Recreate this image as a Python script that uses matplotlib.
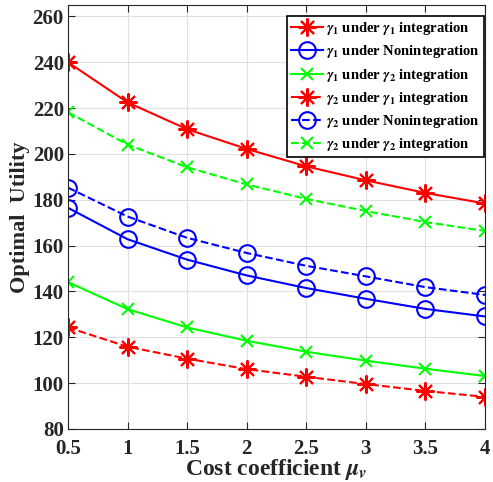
import matplotlib
matplotlib.use('Agg')
import matplotlib.pyplot as plt

plt.rcParams['font.family'] = ['Liberation Serif', 'DejaVu Serif']
plt.rcParams['font.weight'] = 'bold'
plt.rcParams['mathtext.fontset'] = 'stix'

mu = [0.5, 1, 1.5, 2, 2.5, 3, 3.5, 4]

g1_int1 = [240, 222.5, 210.8, 202.2, 194.6, 188.5, 183.0, 178.4]
g1_non = [176.5, 162.8, 153.9, 147.0, 141.5, 136.8, 132.4, 129.1]
g1_int2 = [144.1, 132.3, 124.3, 118.5, 113.7, 109.8, 106.3, 103.1]
g2_int1 = [124.3, 115.9, 110.7, 106.1, 102.8, 99.6, 96.6, 94.0]
g2_non = [185.3, 172.7, 163.4, 156.8, 151.2, 146.6, 141.9, 138.5]
g2_int2 = [218.2, 204.1, 194.2, 186.7, 180.4, 175.1, 170.3, 166.4]

labels = [r'$\gamma_1$ under $\gamma_1$ integration',
          r'$\gamma_1$ under Nonintegration',
          r'$\gamma_1$ under $\gamma_2$ integration',
          r'$\gamma_2$ under $\gamma_1$ integration',
          r'$\gamma_2$ under Nonintegration',
          r'$\gamma_2$ under $\gamma_2$ integration']

# matlab style asterisk: 8 spokes
star = (8, 2, 0)

fig = plt.figure(figsize=(4.93, 4.82), dpi=100)
ax = fig.add_axes([68/493, 1-429/482, (485-68)/493, (429-5)/482])

ax.plot(mu, g1_int1, '-', color='#ff0000', marker=star, ms=13, mew=1.5, lw=1.5, label=labels[0])
ax.plot(mu, g1_non, '-', color='#0000ff', marker='o', ms=12, mfc='none', mew=1.5, lw=1.5, label=labels[1])
ax.plot(mu, g1_int2, '-', color='#00ff00', marker='x', ms=9, mew=1.5, lw=1.5, label=labels[2])
ax.plot(mu, g2_int1, '--', color='#ff0000', marker=star, ms=13, mew=1.5, lw=1.5, label=labels[3])
ax.plot(mu, g2_non, '--', color='#0000ff', marker='o', ms=12, mfc='none', mew=1.5, lw=1.5, label=labels[4])
ax.plot(mu, g2_int2, '--', color='#00ff00', marker='x', ms=9, mew=1.5, lw=1.5, label=labels[5])

ax.set_xlim(0.5, 4)
ax.set_ylim(80, 265)
ax.set_xticks(mu)
ax.set_xticklabels(['0.5', '1', '1.5', '2', '2.5', '3', '3.5', '4'])
ax.set_yticks(range(80, 261, 20))
ax.tick_params(direction='in', top=True, right=True, labelsize=15, length=5, colors='#262626')
ax.tick_params(axis='x', pad=7)
ax.tick_params(axis='y', pad=3)
for lab in ax.get_xticklabels() + ax.get_yticklabels():
    lab.set_fontweight('bold')
ax.grid(True, color='#e0e0e0', lw=0.8)
ax.set_axisbelow(True)
for s in ax.spines.values():
    s.set_color('#262626')
    s.set_linewidth(0.8)

ax.set_xlabel(r'Cost coefficient $\mu_v$', fontsize=17, fontweight='bold', labelpad=-1, color='#262626')
ax.set_ylabel('Optimal  Utility', fontsize=16, fontweight='bold', labelpad=2, color='#262626')

leg = ax.legend(loc='upper right', bbox_to_anchor=(484/493, 1-16/482), bbox_transform=fig.transFigure,
                prop={'weight': 'bold', 'size': 10.5}, fancybox=False,
                framealpha=1, edgecolor='black', handlelength=2.2, handletextpad=0.2,
                borderaxespad=0, labelspacing=0.42, borderpad=0.3)
leg.get_frame().set_linewidth(1.2)

plt.savefig('out.png', dpi=100)
